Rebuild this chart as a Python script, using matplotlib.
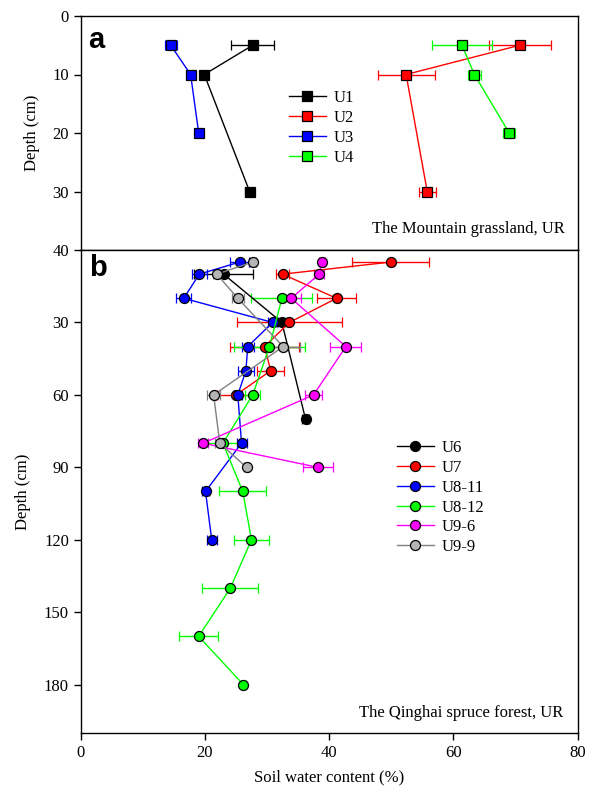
import matplotlib
matplotlib.use("Agg")
import matplotlib.pyplot as plt
from matplotlib.lines import Line2D
import numpy as np

plt.rcParams['font.family'] = ['Liberation Serif', 'DejaVu Serif']

# ---------------- Panel a data (Mountain grassland) ----------------
a_names = ["U1", "U2", "U3", "U4"]
a_colors = ["black", "red", "blue", "#00ff00"]
a_depth = [[5, 10, 30], [5, 10, 30], [5, 10, 20], [5, 10, 20]]
a_swc = [[27.7, 19.9, 27.2], [70.7, 52.4, 55.8], [14.5, 17.7, 19.0], [61.4, 63.4, 69.0]]
a_err = [[3.5, 0.6, 0.7], [5.0, 4.6, 1.4], [1.0, 0.5, 0.4], [4.8, 1.0, 1.0]]

# ---------------- Panel b data (Qinghai spruce forest) ----------------
b_names = ["U6", "U7", "U8-11", "U8-12", "U9-6", "U9-9"]
b_colors = ["black", "red", "blue", "#00ff00", "#ff00ff", "#b4b4b4"]
b_line_colors = ["black", "red", "blue", "#00ff00", "#ff00ff", "#808080"]
b_depth = [
    [10, 30, 70],
    [5, 10, 20, 30, 40, 50, 60],
    [5, 10, 20, 30, 40, 50, 60, 80, 100, 120],
    [20, 40, 60, 80, 100, 120, 140, 160, 180],
    [5, 10, 20, 40, 60, 80, 90],
    [5, 10, 20, 40, 60, 80, 90],
]
b_swc = [
    [23.0, 32.4, 36.2],
    [49.9, 32.5, 41.2, 33.6, 29.6, 30.6, 25.0],
    [25.6, 19.1, 16.6, 30.9, 26.9, 26.6, 25.3, 25.9, 20.1, 21.1],
    [32.4, 30.4, 27.7, 22.9, 26.1, 27.5, 24.1, 19.0, 26.2],
    [38.9, 38.4, 33.9, 42.7, 37.5, 19.7, 38.2],
    [27.7, 21.9, 25.3, 32.6, 21.4, 22.4, 26.7],
]
b_err = [
    [4.8, 0.8, 0.5],
    [6.2, 1.0, 3.1, 8.4, 5.5, 2.2, 3.0],
    [1.5, 1.2, 1.2, 0.8, 1.0, 1.3, 0.6, 0.8, 0.5, 0.8],
    [4.9, 5.7, 1.2, 3.0, 3.8, 2.8, 4.5, 3.1, 0.4],
    [0.5, 0.8, 1.5, 2.5, 1.4, 0.8, 2.4],
    [0.5, 0.6, 1.0, 2.7, 1.0, 0.8, 0.4],
]

a_yticks = [0, 10, 20, 30, 40]
b_yticks = [30, 60, 90, 120, 150, 180]
xticks = [0, 20, 40, 60, 80]

FS = 12
W, H = 595, 790
fig = plt.figure(figsize=(W / 100, H / 100), dpi=100)

L, R = 80.7, 577.5
ax_a = fig.add_axes([L / W, 1 - 250 / H, (R - L) / W, (250 - 16) / H])
ax_b = fig.add_axes([L / W, 1 - 733 / H, (R - L) / W, (733 - 250) / H])

lw = 1.0
a_handles = []
for name, c, d, s, e in zip(a_names, a_colors, a_depth, a_swc, a_err):
    ax_a.errorbar(s, d, xerr=e, color=c, lw=lw, marker='s', ms=7.4,
                  mfc=c, mec='black', mew=0.9, capsize=3.6, elinewidth=lw,
                  capthick=lw)
    a_handles.append(Line2D([], [], color=c, lw=lw, marker='s', ms=7.4,
                            mfc=c, mec='black', mew=0.9, label=name))

b_handles = []
for name, c, lc, d, s, e in zip(b_names, b_colors, b_line_colors, b_depth, b_swc, b_err):
    ax_b.errorbar(s, d, xerr=e, color=lc, ecolor=lc, lw=lw, marker='o', ms=7.2,
                  mfc=c, mec='black', mew=0.9, capsize=3.6, elinewidth=lw,
                  capthick=lw)
    b_handles.append(Line2D([], [], color=lc, lw=lw, marker='o', ms=7.2,
                            mfc=c, mec='black', mew=0.9, label=name))

for ax in (ax_a, ax_b):
    ax.set_xlim(0, 80)
    for sp in ax.spines.values():
        sp.set_linewidth(1.0)
    ax.tick_params(direction='out', length=5, width=1.0, labelsize=FS)

ax_a.set_ylim(40, 0)
ax_a.set_yticks(a_yticks)
ax_a.set_xticks(xticks)
ax_a.tick_params(axis='x', bottom=False, labelbottom=False)

ax_b.set_ylim(200, 0)
ax_b.set_yticks(b_yticks)
ax_b.set_xticks(xticks)

ax_a.set_ylabel("Depth (cm)", fontsize=FS, labelpad=9)
ax_b.set_ylabel("Depth (cm)", fontsize=FS, labelpad=9)
ax_b.set_xlabel("Soil water content (%)", fontsize=FS, labelpad=6)

fig.text(88 / W, 1 - 26 / H, "a", family='Liberation Sans', weight='bold',
         fontsize=21, va='top', ha='left')
fig.text(89 / W, 1 - 254 / H, "b", family='Liberation Sans', weight='bold',
         fontsize=21, va='top', ha='left')

fig.text(565 / W, 1 - 233 / H, "The Mountain grassland, UR", fontsize=FS,
         ha='right', va='baseline')
fig.text(563 / W, 1 - 717 / H, "The Qinghai spruce forest, UR", fontsize=FS,
         ha='right', va='baseline')

ax_a.legend(handles=a_handles, loc='upper left', bbox_to_anchor=(289 / W, 1 - 90 / H),
            bbox_transform=fig.transFigure, frameon=False, fontsize=FS,
            borderpad=0, borderaxespad=0, handlelength=2.2, handletextpad=0.5,
            labelspacing=0.23)
ax_b.legend(handles=b_handles, loc='upper left', bbox_to_anchor=(397 / W, 1 - 440 / H),
            bbox_transform=fig.transFigure, frameon=False, fontsize=FS,
            borderpad=0, borderaxespad=0, handlelength=2.2, handletextpad=0.5,
            labelspacing=0.23)

fig.savefig("out.png", dpi=100)
